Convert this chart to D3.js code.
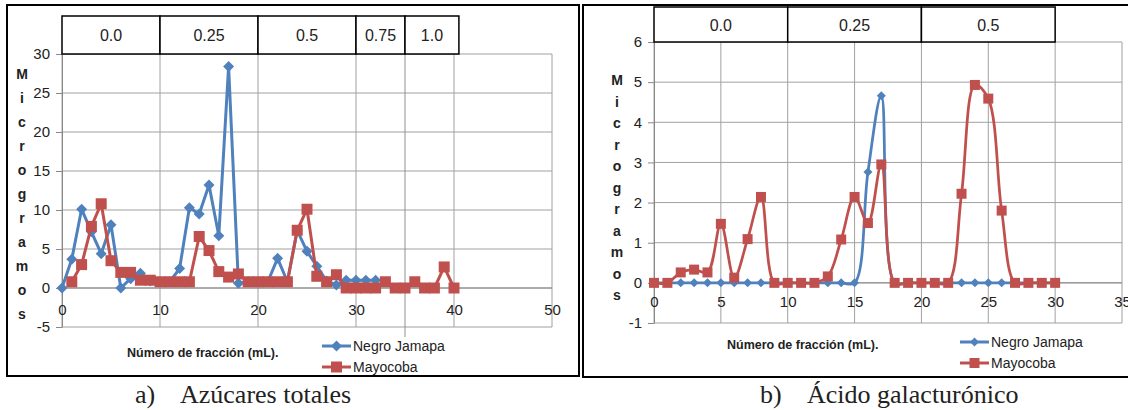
<!DOCTYPE html>
<html>
<head>
<meta charset="utf-8">
<script src="https://cdnjs.cloudflare.com/ajax/libs/d3/7.8.5/d3.min.js"></script>
<style>
  body { margin: 0; background: #fff; }
  text { font-family: "Liberation Sans", Arial, sans-serif; fill: #222; }
</style>
</head>
<body>
<div class="chart"></div>
<script>
var svgWidth = 1128;
var svgHeight = 410;

// a) Azúcares totales
var leftBlueX = [0, 1, 2, 3, 4, 5, 6, 7, 8, 9, 10, 11, 12, 13, 14, 15, 16, 17, 18, 19, 20, 21, 22, 23, 24, 25, 26, 27, 28, 29, 30, 31, 32];
var leftBlueY = [0, 3.7, 10.1, 7.2, 4.4, 8.1, 0, 1.2, 1.9, 0.9, 0.8, 0.8, 2.5, 10.3, 9.5, 13.2, 6.7, 28.4, 0.6, 0.8, 0.8, 0.8, 3.8, 0.8, 7.4, 4.7, 2.8, 0.9, 0.4, 1.0, 1.0, 1.0, 1.0];
var leftRedX = [1, 2, 3, 4, 5, 6, 7, 8, 9, 10, 11, 12, 13, 14, 15, 16, 17, 18, 19, 20, 21, 22, 23, 24, 25, 26, 27, 28, 29, 30, 31, 32, 33, 34, 35, 36, 37, 38, 39, 40];
var leftRedY = [0.8, 3.0, 7.9, 10.8, 3.5, 2.0, 2.0, 1.0, 1.0, 0.8, 0.8, 0.8, 0.8, 6.6, 4.8, 2.1, 1.4, 1.8, 0.8, 0.8, 0.8, 0.8, 0.8, 7.4, 10.1, 1.5, 0.8, 1.7, 0, 0, 0, 0, 0.8, 0, 0, 0.8, 0, 0, 2.7, 0];
var leftXTicks = [0, 10, 20, 30, 40, 50];
var leftYTicks = [-5, 0, 5, 10, 15, 20, 25, 30];
var leftBandEdges = [0, 10, 20, 30, 35, 40.5];
var leftBandLabels = ["0.0", "0.25", "0.5", "0.75", "1.0"];

// b) Ácido galacturónico
var rightX = [0, 1, 2, 3, 4, 5, 6, 7, 8, 9, 10, 11, 12, 13, 14, 15, 16, 17, 18, 19, 20, 21, 22, 23, 24, 25, 26, 27, 28, 29, 30];
var rightBlueY = [0, 0, 0, 0, 0, 0, 0, 0, 0, 0, 0, 0, 0, 0, 0, 0, 2.76, 4.66, 0, 0, 0, 0, 0, 0, 0, 0, 0, 0, 0, 0, 0];
var rightRedY = [0, 0, 0.26, 0.33, 0.26, 1.47, 0.13, 1.09, 2.14, 0, 0, 0, 0, 0.16, 1.08, 2.14, 1.49, 2.95, 0, 0, 0, 0, 0, 2.22, 4.93, 4.59, 1.8, 0, 0, 0, 0];
var rightXTicks = [0, 5, 10, 15, 20, 25, 30, 35];
var rightYTicks = [-1, 0, 1, 2, 3, 4, 5, 6];
var rightBandEdges = [0, 10, 20, 30];
var rightBandLabels = ["0.0", "0.25", "0.5"];

var seriesNames = ["Negro Jamapa", "Mayocoba"];
var blue = "#4F81BD";
var red = "#C0504D";

var svg = d3
  .select(".chart")
  .append("svg")
  .attr("width", svgWidth)
  .attr("height", svgHeight);

svg.append("rect").attr("width", svgWidth).attr("height", svgHeight).attr("fill", "#fff");

function zip(xs, ys) {
  return xs.map(function(x, i) { return { x: x, y: ys[i] }; });
}

function diamondPath(r) {
  return "M0," + (-r) + "L" + r + ",0L0," + r + "L" + (-r) + ",0Z";
}

function squarePath(s) {
  var h = s / 2;
  return "M" + (-h) + "," + (-h) + "h" + s + "v" + s + "h" + (-s) + "Z";
}

// plain hyphen for negatives, like the original
var plainNum = d => String(d);

function drawChart(c) {
  var g = svg.append("g");

  // outer frame
  g.append("rect")
    .attr("x", c.frame[0]).attr("y", c.frame[1])
    .attr("width", c.frame[2]).attr("height", c.frame[3])
    .attr("fill", "none").attr("stroke", "#000").attr("stroke-width", 2);

  var x = d3.scaleLinear().domain(c.xDomain).range(c.xRange);
  var y = d3.scaleLinear().domain(c.yDomain).range(c.yRange);

  // gridlines
  g.selectAll(".hgrid").data(c.yTicks).enter().append("line")
    .attr("x1", c.xRange[0]).attr("x2", c.xRange[1])
    .attr("y1", d => y(d)).attr("y2", d => y(d))
    .attr("stroke", "#a0a0a0").attr("stroke-width", 1);
  g.selectAll(".vgrid").data(c.xTicks).enter().append("line")
    .attr("x1", d => x(d)).attr("x2", d => x(d))
    .attr("y1", c.yRange[0]).attr("y2", c.yRange[1])
    .attr("stroke", "#a0a0a0").attr("stroke-width", 1);

  if (c.extraLine !== undefined) {
    g.append("line")
      .attr("x1", x(c.extraLine)).attr("x2", x(c.extraLine))
      .attr("y1", c.yRange[1]).attr("y2", c.yRange[0] + 10)
      .attr("stroke", "#909090").attr("stroke-width", 1);
  }

  // x axis line at zero
  g.append("line")
    .attr("x1", c.xRange[0]).attr("x2", c.xRange[1])
    .attr("y1", y(0)).attr("y2", y(0))
    .attr("stroke", "#888").attr("stroke-width", 1);

  // axes
  var leftAxis = d3.axisLeft(y).tickValues(c.yTicks).tickFormat(plainNum)
    .tickSize(6).tickSizeOuter(0).tickPadding(6);
  var yAxis = g.append("g")
    .attr("transform", `translate(${c.xRange[0]}, 0)`)
    .call(leftAxis);
  yAxis.select(".domain").attr("stroke", "#888");
  yAxis.selectAll(".tick line").attr("stroke", "#888");
  yAxis.selectAll("text").style("font-size", "15px").attr("fill", "#222");

  var bottomAxis = d3.axisBottom(x).tickValues(c.xTicks).tickFormat(plainNum)
    .tickSize(0).tickPadding(c.xLabelPad);
  var xAxis = g.append("g")
    .attr("transform", `translate(0, ${y(0)})`)
    .call(bottomAxis);
  xAxis.select(".domain").remove();
  xAxis.selectAll("text").style("font-size", "15px").attr("fill", "#222");

  // header table
  var bands = c.bandLabels.map(function(l, i) {
    return { label: l, x0: c.bandEdges[i], x1: c.bandEdges[i + 1] };
  });
  g.selectAll(".band").data(bands).enter().append("rect")
    .attr("x", d => x(d.x0)).attr("width", d => x(d.x1) - x(d.x0))
    .attr("y", c.headerTop).attr("height", c.yRange[1] - c.headerTop)
    .attr("fill", "#fff").attr("stroke", "#000").attr("stroke-width", 1.5);
  g.selectAll(".bandText").data(bands).enter().append("text")
    .attr("x", d => (x(d.x0) + x(d.x1)) / 2)
    .attr("y", (c.headerTop + c.yRange[1]) / 2 + 6)
    .attr("text-anchor", "middle")
    .style("font-size", "16px")
    .text(d => d.label);

  // lines
  var line = d3.line()
    .x(d => x(d.x))
    .y(d => y(d.y))
    .curve(c.smooth ? d3.curveCatmullRom.alpha(0.5) : d3.curveLinear);

  c.series.forEach(function(s) {
    g.append("path")
      .datum(s.data)
      .attr("d", line)
      .attr("fill", "none")
      .attr("stroke", s.color)
      .attr("stroke-width", c.lineWidth)
      .attr("stroke-linejoin", "round");
    g.selectAll(null).data(s.data).enter().append("path")
      .attr("transform", d => `translate(${x(d.x)}, ${y(d.y)})`)
      .attr("d", s.marker)
      .attr("fill", s.color);
  });

  // y title, stacked letters
  var yTitle = "Microgramos".split("");
  g.selectAll(".ylet").data(yTitle).enter().append("text")
    .attr("x", c.yTitleX)
    .attr("y", (d, i) => c.yTitleTop + i * c.yTitleStep + 5)
    .attr("text-anchor", "middle")
    .style("font-size", "14px")
    .style("font-weight", "bold")
    .text(d => d);

  // x title
  g.append("text")
    .attr("x", c.xTitle[0]).attr("y", c.xTitle[1])
    .style("font-size", "12.5px")
    .style("font-weight", "bold")
    .text("Número de fracción (mL).");

  // legend
  c.series.forEach(function(s, i) {
    var ly = c.legend[1] + i * 21;
    g.append("line")
      .attr("x1", c.legend[0]).attr("x2", c.legend[0] + 29)
      .attr("y1", ly).attr("y2", ly)
      .attr("stroke", s.color).attr("stroke-width", 3);
    g.append("path")
      .attr("transform", `translate(${c.legend[0] + 14.5}, ${ly})`)
      .attr("d", s.marker)
      .attr("fill", s.color);
    g.append("text")
      .attr("x", c.legend[0] + 31).attr("y", ly + 5)
      .style("font-size", "14px")
      .text(seriesNames[i]);
  });

  // caption
  g.append("text")
    .attr("x", c.caption[0]).attr("y", 403)
    .style("font-family", "'Liberation Serif', serif")
    .style("font-size", "26px")
    .attr("fill", "#000")
    .text(c.captionLetter);
  g.append("text")
    .attr("x", c.caption[1]).attr("y", 403)
    .style("font-family", "'Liberation Serif', serif")
    .style("font-size", "26px")
    .attr("fill", "#000")
    .text(c.captionText);
}

drawChart({
  frame: [7, 5, 572, 371],
  xDomain: [0, 50], xRange: [62, 552],
  yDomain: [-5, 30], yRange: [327, 54],
  xTicks: leftXTicks, yTicks: leftYTicks,
  xLabelPad: 16,
  extraLine: 35,
  headerTop: 16,
  bandEdges: leftBandEdges, bandLabels: leftBandLabels,
  smooth: false,
  lineWidth: 3,
  series: [
    { data: zip(leftBlueX, leftBlueY), color: blue, marker: diamondPath(5.5) },
    { data: zip(leftRedX, leftRedY), color: red, marker: squarePath(11) }
  ],
  yTitleX: 22, yTitleTop: 74, yTitleStep: 24,
  xTitle: [127, 357],
  legend: [322, 346],
  caption: [135, 180],
  captionLetter: "a)",
  captionText: "Azúcares totales"
});

drawChart({
  frame: [583, 5, 550, 372],
  xDomain: [0, 35], xRange: [654, 1122],
  yDomain: [-1, 6], yRange: [323, 42],
  xTicks: rightXTicks, yTicks: rightYTicks,
  xLabelPad: 14,
  headerTop: 7,
  bandEdges: rightBandEdges, bandLabels: rightBandLabels,
  smooth: true,
  lineWidth: 2.75,
  series: [
    { data: zip(rightX, rightBlueY), color: blue, marker: diamondPath(4.5) },
    { data: zip(rightX, rightRedY), color: red, marker: squarePath(10) }
  ],
  yTitleX: 617, yTitleTop: 80, yTitleStep: 21.5,
  xTitle: [727, 349],
  legend: [960, 342],
  caption: [760, 807],
  captionLetter: "b)",
  captionText: "Ácido galacturónico"
});
</script>
</body>
</html>
